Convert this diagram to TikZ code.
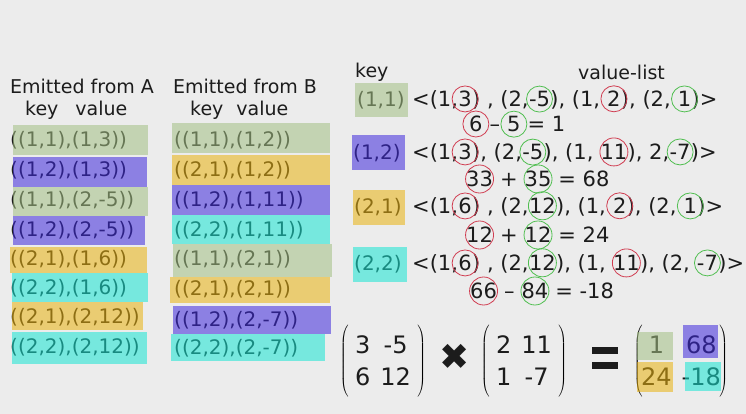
\documentclass[tikz,border=0pt]{standalone}
\usepackage{fontspec}
\setmainfont{DejaVu Sans}
\usetikzlibrary{positioning,matrix}

\definecolor{slidebg}{RGB}{236,236,236}
\definecolor{ink}{RGB}{28,28,28}
\definecolor{hlgreen}{RGB}{163,192,131}
\definecolor{hlpurple}{RGB}{62,40,221}
\definecolor{hlyellow}{RGB}{234,178,14}
\definecolor{hlcyan}{RGB}{22,229,211}
\definecolor{ringred}{RGB}{208,60,80}
\definecolor{ringgreen}{RGB}{80,190,80}

\newcommand\headfont{\fontsize{19}{22}\selectfont}
\newcommand\pairfont{\fontsize{20}{24}\selectfont}
\newcommand\listfont{\fontsize{21}{25}\selectfont}
\newcommand\matfont{\fontsize{24}{28}\selectfont}

\tikzset{
    txt/.style={
        anchor=west,
        inner sep=0pt,
        text=ink
    },
    seg/.style={
        inner sep=0pt,
        text=ink,
        font=\listfont
    },
    hl/.style={
        fill=#1,
        fill opacity=0.55
    },
    redring/.style={
        circle,
        draw=ringred,
        line width=0.8pt,
        minimum size=26pt,
        inner sep=0pt
    },
    greenring/.style={
        circle,
        draw=ringgreen,
        line width=0.8pt,
        minimum size=26pt,
        inner sep=0pt
    },
    mat/.style={
        matrix of nodes,
        inner xsep=4pt,
        inner ysep=6pt,
        row sep=0pt,
        column sep=8pt,
        nodes={font=\matfont, text=ink, minimum height=32pt, inner sep=1pt},
        left delimiter=(,
        right delimiter=)
    }
}

\begin{document}
\begin{tikzpicture}[x=1pt, y=-1pt]
    \useasboundingbox[fill=slidebg] (0,0) rectangle (746,414);

    % Emitted from A
    \node[txt, font=\headfont] (hA) at (10,86) {Emitted from A};
    \node[txt, font=\headfont] (kA) at (25,110) {key\hspace{17pt}value};
    \node[txt, font=\pairfont] (a1) at (10,140) {((1,1),(1,3))};
    \node[txt, font=\pairfont] (a2) at (10,170) {((1,2),(1,3))};
    \node[txt, font=\pairfont] (a3) at (10,200) {((1,1),(2,-5))};
    \node[txt, font=\pairfont] (a4) at (10,230) {((1,2),(2,-5))};
    \node[txt, font=\pairfont] (a5) at (10,259) {((2,1),(1,6))};
    \node[txt, font=\pairfont] (a6) at (10,288) {((2,2),(1,6))};
    \node[txt, font=\pairfont] (a7) at (10,317) {((2,1),(2,12))};
    \node[txt, font=\pairfont] (a8) at (10,347) {((2,2),(2,12))};
    \fill[hl=hlgreen] (13,125) rectangle (148,155);
    \fill[hl=hlpurple] (13,157) rectangle (147,187);
    \fill[hl=hlgreen] (13,187) rectangle (148,216);
    \fill[hl=hlpurple] (13,216) rectangle (145,245);
    \fill[hl=hlyellow] (10,247) rectangle (147,273);
    \fill[hl=hlcyan] (12,273) rectangle (148,302);
    \fill[hl=hlyellow] (12,302) rectangle (143,330);
    \fill[hl=hlcyan] (12,332) rectangle (147,364);

    % Emitted from B
    \node[txt, font=\headfont] (hB) at (173,86) {Emitted from B};
    \node[txt, font=\headfont] (kB) at (190,110) {key\hspace{13pt}value};
    \node[txt, font=\pairfont] (b1) at (174,140) {((1,1),(1,2))};
    \node[txt, font=\pairfont] (b2) at (174,170) {((2,1),(1,2))};
    \node[txt, font=\pairfont] (b3) at (174,200) {((1,2),(1,11))};
    \node[txt, font=\pairfont] (b4) at (174,230) {((2,2),(1,11))};
    \node[txt, font=\pairfont] (b5) at (174,259) {((1,1),(2,1))};
    \node[txt, font=\pairfont] (b6) at (174,289) {((2,1),(2,1))};
    \node[txt, font=\pairfont] (b7) at (174,320) {((1,2),(2,-7))};
    \node[txt, font=\pairfont] (b8) at (174,348) {((2,2),(2,-7))};
    \fill[hl=hlgreen] (172,123) rectangle (330,153);
    \fill[hl=hlyellow] (172,155) rectangle (330,185);
    \fill[hl=hlpurple] (172,185) rectangle (330,215);
    \fill[hl=hlcyan] (172,215) rectangle (330,244);
    \fill[hl=hlgreen] (173,244) rectangle (332,277);
    \fill[hl=hlyellow] (170,277) rectangle (330,303);
    \fill[hl=hlpurple] (173,306) rectangle (331,334);
    \fill[hl=hlcyan] (171,334) rectangle (325,361);

    % key / value-list
    \node[txt, font=\headfont] (hkey) at (355,72) {key};
    \node[txt, font=\headfont] (hlist) at (578,72) {value-list};

    % Linha (1,1)
    \node[txt, font=\pairfont] (k11) at (357,100) {(1,1)};
    \node[txt, font=\listfont] (l1a) at (412,100) {<(1,};
    \node[seg, base right=0pt of l1a] (l1b) {3};
    \node[seg, base right=0pt of l1b] (l1c) {) , (2,};
    \node[seg, base right=0pt of l1c] (l1d) {-5};
    \node[seg, base right=0pt of l1d] (l1e) {), (1,\ \null};
    \node[seg, base right=0pt of l1e] (l1f) {2};
    \node[seg, base right=0pt of l1f] (l1g) {), (2,\ \null};
    \node[seg, base right=0pt of l1g] (l1h) {1};
    \node[seg, base right=0pt of l1h] (l1i) {)>};
    \node[txt, font=\listfont] (s1a) at (469,124) {6};
    \node[seg, base right=0pt of s1a] (s1b) {\null\ –\ \null};
    \node[seg, base right=0pt of s1b] (s1c) {5};
    \node[seg, base right=0pt of s1c] (s1d) {\null\ = 1};
    \node[redring] (o1b) at (l1b) {};
    \node[greenring] (o1d) at (l1d) {};
    \node[redring] (o1f) at (l1f) {};
    \node[greenring] (o1h) at (l1h) {};
    \node[redring] (p1a) at (s1a) {};
    \node[greenring] (p1c) at (s1c) {};
    \fill[hl=hlgreen] (355,83) rectangle (408,117);

    % Linha (1,2)
    \node[txt, font=\pairfont] (k12) at (353,153) {(1,2)};
    \node[txt, font=\listfont] (l2a) at (412,153) {<(1,};
    \node[seg, base right=0pt of l2a] (l2b) {3};
    \node[seg, base right=0pt of l2b] (l2c) {), (2,};
    \node[seg, base right=0pt of l2c] (l2d) {-5};
    \node[seg, base right=0pt of l2d] (l2e) {), (1,\ \null};
    \node[seg, base right=0pt of l2e] (l2f) {11};
    \node[seg, base right=0pt of l2f] (l2g) {), 2,};
    \node[seg, base right=0pt of l2g] (l2h) {-7};
    \node[seg, base right=0pt of l2h] (l2i) {)>};
    \node[txt, font=\listfont] (s2a) at (466,179) {33};
    \node[seg, base right=0pt of s2a] (s2b) {\null\ +\ \null};
    \node[seg, base right=0pt of s2b] (s2c) {35};
    \node[seg, base right=0pt of s2c] (s2d) {\null\ = 68};
    \node[redring] (o2b) at (l2b) {};
    \node[greenring] (o2d) at (l2d) {};
    \node[redring, minimum size=28pt] (o2f) at (l2f) {};
    \node[greenring] (o2h) at (l2h) {};
    \node[redring, minimum size=28pt] (p2a) at (s2a) {};
    \node[greenring, minimum size=28pt] (p2c) at (s2c) {};
    \fill[hl=hlpurple] (352,135) rectangle (405,170);

    % Linha (2,1)
    \node[txt, font=\pairfont] (k21) at (354,207) {(2,1)};
    \node[txt, font=\listfont] (l3a) at (412,207) {<(1,};
    \node[seg, base right=0pt of l3a] (l3b) {6};
    \node[seg, base right=0pt of l3b] (l3c) {) , (2,};
    \node[seg, base right=0pt of l3c] (l3d) {12};
    \node[seg, base right=0pt of l3d] (l3e) {), (1,\ \null};
    \node[seg, base right=0pt of l3e] (l3f) {2};
    \node[seg, base right=0pt of l3f] (l3g) {), (2,\ \null};
    \node[seg, base right=0pt of l3g] (l3h) {1};
    \node[seg, base right=0pt of l3h] (l3i) {)>};
    \node[txt, font=\listfont] (s3a) at (466,235) {12};
    \node[seg, base right=0pt of s3a] (s3b) {\null\ +\ \null};
    \node[seg, base right=0pt of s3b] (s3c) {12};
    \node[seg, base right=0pt of s3c] (s3d) {\null\ = 24};
    \node[redring] (o3b) at (l3b) {};
    \node[greenring, minimum size=28pt] (o3d) at (l3d) {};
    \node[redring] (o3f) at (l3f) {};
    \node[greenring] (o3h) at (l3h) {};
    \node[redring, minimum size=28pt] (p3a) at (s3a) {};
    \node[greenring, minimum size=28pt] (p3c) at (s3c) {};
    \fill[hl=hlyellow] (353,190) rectangle (405,225);

    % Linha (2,2)
    \node[txt, font=\pairfont] (k22) at (354,264) {(2,2)};
    \node[txt, font=\listfont] (l4a) at (412,264) {<(1,};
    \node[seg, base right=0pt of l4a] (l4b) {6};
    \node[seg, base right=0pt of l4b] (l4c) {) , (2,};
    \node[seg, base right=0pt of l4c] (l4d) {12};
    \node[seg, base right=0pt of l4d] (l4e) {), (1,\ \null};
    \node[seg, base right=0pt of l4e] (l4f) {11};
    \node[seg, base right=0pt of l4f] (l4g) {), (2,\ \null};
    \node[seg, base right=0pt of l4g] (l4h) {-7};
    \node[seg, base right=0pt of l4h] (l4i) {)>};
    \node[txt, font=\listfont] (s4a) at (470,291) {66};
    \node[seg, base right=0pt of s4a] (s4b) {\null\ –\ \null};
    \node[seg, base right=0pt of s4b] (s4c) {84};
    \node[seg, base right=0pt of s4c] (s4d) {\null\ = -18};
    \node[redring] (o4b) at (l4b) {};
    \node[greenring, minimum size=28pt] (o4d) at (l4d) {};
    \node[redring, minimum size=28pt] (o4f) at (l4f) {};
    \node[greenring] (o4h) at (l4h) {};
    \node[redring, minimum size=28pt] (p4a) at (s4a) {};
    \node[greenring, minimum size=28pt] (p4c) at (s4c) {};
    \fill[hl=hlcyan] (353,247) rectangle (407,282);

    % Matrizes
    \matrix[mat] (ma) at (383,361) {3 & -5 \\ 6 & 12 \\};
    \node[font=\fontsize{36}{36}\selectfont, text=ink] (times) at (455,357) {✖};
    \matrix[mat] (mb) at (524,361) {2 & 11 \\ 1 & -7 \\};
    \fill[ink] (592,347) rectangle (618,354);
    \fill[ink] (592,362) rectangle (618,369);
    \matrix[mat, inner xsep=-4pt, column sep=8pt] (mc) at (681,361) {1 & 68 \\ 24 & -18 \\};
    \fill[hl=hlgreen] (637,332) rectangle (673,360);
    \fill[hl=hlpurple] (683,325) rectangle (718,358);
    \fill[hl=hlyellow] (637,362) rectangle (673,392);
    \fill[hl=hlcyan] (685,362) rectangle (721,391);

\end{tikzpicture}
\end{document}
